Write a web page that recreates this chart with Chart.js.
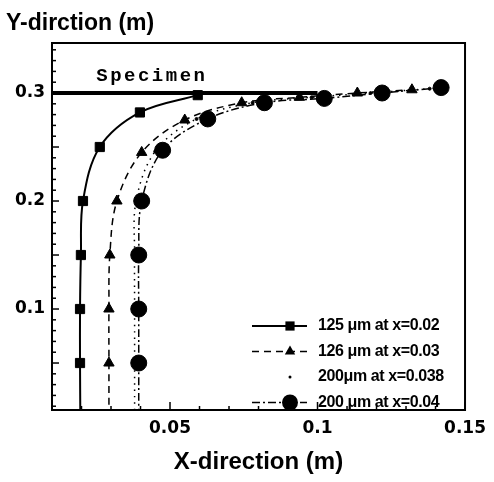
<!DOCTYPE html>
<html>
<head>
<meta charset="utf-8">
<script src="https://cdn.jsdelivr.net/npm/chart.js@4/dist/chart.umd.min.js"></script>
<style>
  html, body { margin: 0; padding: 0; background: #fff; }
</style>
</head>
<body>
<canvas id="myChart" width="494" height="482"></canvas>
<script>
// values
const seriesLabels = ['125 \u03bcm at x=0.02', '126 \u03bcm at x=0.03', '200\u03bcm at x=0.038', '200 \u03bcm at x=0.04'];

const xSquare = [0.0196, 0.0195, 0.0195, 0.0198, 0.0205, 0.0262, 0.0398, 0.0594];
const ySquare = [0.0, 0.05, 0.10, 0.15, 0.20, 0.25, 0.282, 0.298];

const xTriangle = [0.0293, 0.0293, 0.0293, 0.0296, 0.032, 0.0404, 0.055, 0.0743, 0.0939, 0.1135, 0.132];
const yTriangle = [0.0, 0.05, 0.10, 0.15, 0.20, 0.245, 0.275, 0.291, 0.296, 0.30, 0.303];

const xDot = [0.038, 0.038, 0.038, 0.038, 0.0385, 0.045, 0.059, 0.078, 0.098, 0.118, 0.138];
const yDot = [0.0, 0.05, 0.10, 0.15, 0.20, 0.246, 0.276, 0.291, 0.296, 0.30, 0.304];

const xCircle = [0.0394, 0.0394, 0.0394, 0.0394, 0.0404, 0.0475, 0.0628, 0.082, 0.1023, 0.1219, 0.1419];
const yCircle = [0.0, 0.05, 0.10, 0.15, 0.20, 0.247, 0.276, 0.291, 0.295, 0.30, 0.305];

const xSpecimen = [0.01, 0.1];
const ySpecimen = [0.3, 0.3];

const xTicks = [0.05, 0.1, 0.15];
const yTicks = [0.1, 0.2, 0.3];

const xMin = 0.01, xMax = 0.15;
const yMin = 0.0065, yMax = 0.3463;

function pts(xs, ys) {
    return xs.map((x, i) => ({ x: x, y: ys[i] }));
}
// hide markers that sit below the visible axis
function radiusAbove(r) {
    return c => (c.raw && c.raw.y < yMin ? 0 : r);
}
function isMajor(list, v) {
    return list.some(t => Math.abs(t - v) < 1e-9);
}

const series = [
    { label: seriesLabels[0], data: pts(xSquare, ySquare), pointStyle: 'rect', radius: 6.5, borderWidth: 2, borderDash: [] },
    { label: seriesLabels[1], data: pts(xTriangle, yTriangle), pointStyle: 'triangle', radius: 6, borderWidth: 1.5, borderDash: [7, 5] },
    { label: seriesLabels[2], data: pts(xDot, yDot), pointStyle: 'circle', radius: 1.5, borderWidth: 1.5, borderDash: [1.5, 5] },
    { label: seriesLabels[3], data: pts(xCircle, yCircle), pointStyle: 'circle', radius: 8, borderWidth: 1.5, borderDash: [8, 3, 2, 3] }
];

const datasets = [{
    label: '',
    data: pts(xSpecimen, ySpecimen),
    showLine: true,
    borderColor: '#000',
    borderWidth: 4,
    pointRadius: 0,
    tension: 0
}];
series.forEach(s => {
    datasets.push({
        label: s.label,
        data: s.data,
        showLine: true,
        borderColor: '#000',
        borderWidth: s.borderWidth,
        borderDash: s.borderDash,
        pointStyle: s.pointStyle,
        pointRadius: radiusAbove(s.radius),
        pointHoverRadius: 0,
        pointBackgroundColor: '#000',
        pointBorderColor: '#000',
        pointBorderWidth: 1,
        tension: 0.35
    });
});

function drawMarker(ctx, style, r, x, y) {
    ctx.beginPath();
    if (style === 'rect') {
        const h = Math.SQRT1_2 * r;
        ctx.rect(x - h, y - h, 2 * h, 2 * h);
    } else if (style === 'triangle') {
        ctx.moveTo(x, y - r);
        ctx.lineTo(x + r * 0.866, y + r * 0.5);
        ctx.lineTo(x - r * 0.866, y + r * 0.5);
        ctx.closePath();
    } else {
        ctx.arc(x, y, r, 0, Math.PI * 2);
    }
    ctx.fill();
}

const decorPlugin = {
    id: 'decor',
    afterDraw(chart) {
        const ctx = chart.ctx;
        const { left, right, top, bottom } = chart.chartArea;
        const xs = chart.scales.x, ys = chart.scales.y;
        ctx.save();
        ctx.strokeStyle = '#000';
        ctx.fillStyle = '#000';
        ctx.setLineDash([]);

        // frame
        ctx.lineWidth = 2;
        ctx.strokeRect(left, top, right - left, bottom - top);

        // inward ticks
        ctx.lineWidth = 1.5;
        xs.ticks.forEach(t => {
            const px = xs.getPixelForValue(t.value);
            const len = isMajor(xTicks, t.value) ? 8 : 4;
            ctx.beginPath();
            ctx.moveTo(px, bottom);
            ctx.lineTo(px, bottom - len);
            ctx.stroke();
        });
        ys.ticks.forEach(t => {
            const py = ys.getPixelForValue(t.value);
            const major = isMajor(yTicks, t.value) || Math.round(t.value * 100) % 5 === 0;
            ctx.beginPath();
            ctx.moveTo(left, py);
            ctx.lineTo(left + (major ? 7 : 4), py);
            ctx.stroke();
        });

        // y title, horizontal at top left
        ctx.font = 'bold 23px "Liberation Sans", Arial, sans-serif';
        ctx.textBaseline = 'alphabetic';
        ctx.textAlign = 'left';
        ctx.fillText('Y-dirction (m)', 6, 30);

        // specimen label
        ctx.font = 'bold 19px "Liberation Mono", "DejaVu Sans Mono", monospace';
        ctx.letterSpacing = '2.5px';
        ctx.fillText('Specimen', xs.getPixelForValue(0.025), ys.getPixelForValue(0.3) - 12);
        ctx.letterSpacing = '0px';

        // legend
        const rowH = 25.5;
        const y0 = bottom - 84;
        series.forEach((s, i) => {
            const y = y0 + i * rowH;
            const lx0 = 252, lx1 = 307, mx = 290;
            ctx.lineWidth = s.borderWidth;
            ctx.setLineDash(s.borderDash);
            if (i !== 2) {
                ctx.beginPath();
                ctx.moveTo(lx0, y);
                ctx.lineTo(lx1, y);
                ctx.stroke();
            }
            ctx.setLineDash([]);
            drawMarker(ctx, s.pointStyle, s.radius, mx, y);
            ctx.font = 'bold 16px "Liberation Sans Narrow", "Liberation Sans", Arial, sans-serif';
            ctx.letterSpacing = '-0.4px';
            ctx.textBaseline = 'middle';
            ctx.fillText(s.label, 318, y);
            ctx.textBaseline = 'alphabetic';
            ctx.letterSpacing = '0px';
        });
        ctx.restore();
    }
};

var config = {
    type: 'scatter',
    data: { datasets: datasets },
    options: {
        responsive: false,
        animation: { duration: 0 },
        devicePixelRatio: 1,
        layout: { padding: { top: 43, right: 28, left: 0, bottom: 0 } },
        plugins: {
            legend: { display: false },
            tooltip: { enabled: false }
        },
        scales: {
            x: {
                type: 'linear',
                min: xMin,
                max: xMax,
                afterBuildTicks: scale => {
                    const t = [];
                    for (let i = 1; i <= 15; i++) t.push({ value: i / 100 });
                    scale.ticks = t;
                },
                afterFit: scale => { scale.height = 72; },
                grid: { display: false, drawTicks: false },
                border: { display: false },
                ticks: {
                    autoSkip: false,
                    maxRotation: 0,
                    padding: 8,
                    color: '#000',
                    font: { family: '"DejaVu Sans", sans-serif', weight: 'bold', size: 17 },
                    callback: v => (isMajor(xTicks, v) ? String(Math.round(v * 100) / 100) : '')
                },
                title: {
                    display: true,
                    text: 'X-direction (m)',
                    color: '#000',
                    font: { family: '"Liberation Sans", Arial, sans-serif', weight: 'bold', size: 24 },
                    padding: { top: 4, bottom: 5 }
                }
            },
            y: {
                type: 'linear',
                min: yMin,
                max: yMax,
                afterBuildTicks: scale => {
                    const t = [];
                    for (let i = 1; i <= 34; i++) t.push({ value: i / 100 });
                    scale.ticks = t;
                },
                afterFit: scale => { scale.width = 52; },
                grid: { display: false, drawTicks: false },
                border: { display: false },
                ticks: {
                    autoSkip: false,
                    padding: 7,
                    color: '#000',
                    font: { family: '"DejaVu Sans", sans-serif', weight: 'bold', size: 17 },
                    callback: v => (isMajor(yTicks, v) ? String(Math.round(v * 100) / 100) : '')
                }
            }
        }
    },
    plugins: [decorPlugin]
};

var ctx = document.getElementById('myChart').getContext('2d');
window.myChart = new Chart(ctx, config);
</script>
</body>
</html>
